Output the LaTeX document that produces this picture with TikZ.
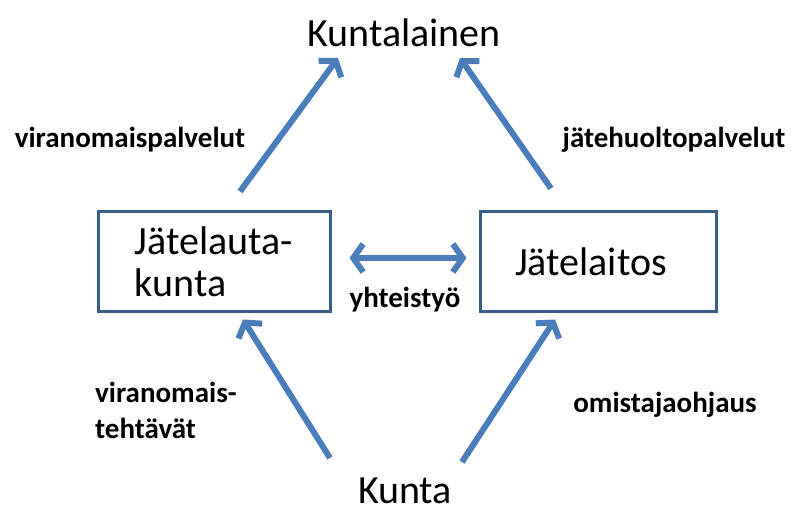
\documentclass[tikz,border=0pt]{standalone}
\usepackage{fontspec}
\setmainfont{Carlito}
\usetikzlibrary{arrows.meta,positioning}
\definecolor{arrowblue}{RGB}{74,126,187}
\definecolor{boxblue}{RGB}{56,93,138}

\begin{document}
\begin{tikzpicture}[
  x=1pt, y=1pt,
  box/.style={rectangle,draw=boxblue,line width=3pt,minimum width=232pt,minimum height=100pt,align=left,inner sep=0pt,font=\fontsize{40}{42}\selectfont},
  big/.style={inner sep=0pt,font=\fontsize{40}{42}\selectfont},
  lbl/.style={inner sep=0pt,align=left,font=\fontsize{29}{36}\selectfont\bfseries},
  arrow/.style={draw=arrowblue,line width=6pt,-{Straight Barb[length=10pt,width=28pt]}}
]
\useasboundingbox (0,0) rectangle (793,510);
\node[box] (lauta) at (214,248) {Jätelauta-\\kunta};
\node[box, minimum width=236pt, right=147pt of lauta] (laitos) {Jätelaitos\hspace*{14pt}};
\node[big] (asukas) at (404,477) {Kuntalainen};
\node[big] (kunta) at (405,19) {Kunta};

\node[lbl] (yht) at (405,210) {yhteistyö};
\node[lbl] (vpalv) at (130,370) {viranomaispalvelut};
\node[lbl] (jpalv) at (674,370) {jätehuoltopalvelut};
\node[lbl, anchor=west] (vteht) at (95,100) {viranomais-\\tehtävät};
\node[lbl] (omist) at (665,105) {omistajaohjaus};

\draw[arrow] ([shift={(26,19)}]lauta.north) -- ([shift={(-66,-25)}]asukas.center);
\draw[arrow] ([shift={(-47,22)}]laitos.north) -- ([shift={(56,-25)}]asukas.center);
\draw[arrow] ([shift={(-75,33)}]kunta.center) -- ([shift={(29,-6)}]lauta.south);
\draw[arrow] ([shift={(57,29)}]kunta.center) -- ([shift={(-43,-6)}]laitos.south);
\draw[arrow,{Straight Barb[length=10pt,width=28pt]}-{Straight Barb[length=10pt,width=28pt]}] ([shift={(18,4)}]lauta.east) -- ([shift={(-12,4)}]laitos.west);
\end{tikzpicture}
\end{document}
